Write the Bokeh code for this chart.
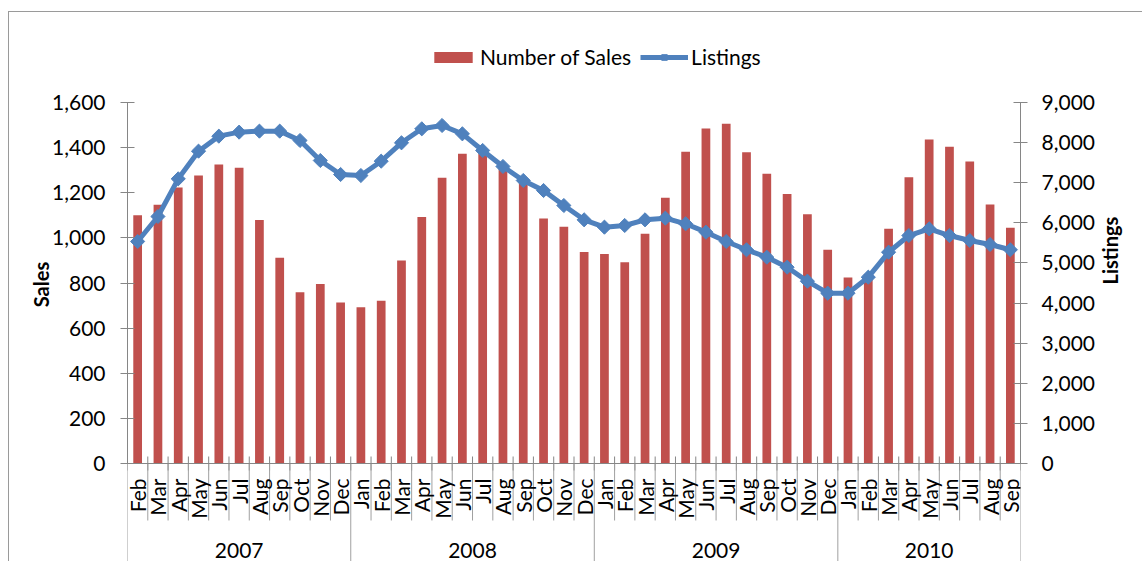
import numpy as np
from bokeh.plotting import figure
from bokeh.models import (Range1d, LinearAxis, FixedTicker, NumeralTickFormatter,
                          Span, Legend, LegendItem, ColumnDataSource)
from bokeh.core.properties import value
from bokeh.embed import file_html
from bokeh.resources import INLINE

# ---------------- data ----------------
years = ["2007", "2008", "2009", "2010"]
months_per_year = [
    ["Feb", "Mar", "Apr", "May", "Jun", "Jul", "Aug", "Sep", "Oct", "Nov", "Dec"],
    ["Jan", "Feb", "Mar", "Apr", "May", "Jun", "Jul", "Aug", "Sep", "Oct", "Nov", "Dec"],
    ["Jan", "Feb", "Mar", "Apr", "May", "Jun", "Jul", "Aug", "Sep", "Oct", "Nov", "Dec"],
    ["Jan", "Feb", "Mar", "Apr", "May", "Jun", "Jul", "Aug", "Sep"],
]
sales = [1100, 1147, 1223, 1277, 1325, 1311, 1079, 912, 759, 796, 714,
         693, 721, 900, 1092, 1266, 1373, 1380, 1310, 1250, 1086, 1049, 937,
         929, 892, 1018, 1178, 1382, 1485, 1506, 1379, 1284, 1194, 1105, 947,
         824, 840, 1040, 1269, 1436, 1404, 1339, 1148, 1045]
listings = [5535, 6158, 7097, 7787, 8161, 8261, 8286, 8286, 8053, 7554, 7205,
            7180, 7537, 7995, 8344, 8427, 8219, 7804, 7405, 7056, 6806, 6432, 6075,
            5892, 5934, 6075, 6116, 5976, 5767, 5535, 5328, 5143, 4894, 4545, 4246,
            4246, 4645, 5268, 5684, 5851, 5684, 5560, 5460, 5328]
sales_ticks = list(range(0, 1601, 200))
listing_ticks = list(range(0, 9001, 1000))

months = [m for ms in months_per_year for m in ms]
n = len(months)
xs = list(range(n))

# ---------------- geometry / style ----------------
FONT = "Lato"
RED = "#C0504D"
BLUE = "#4F81BD"
AXIS_GRAY = "#868686"
SEP_GRAY = "#a0a0a0"
W, H = 1142, 561
ML, MR, MT = 127, 122, 7
AXIS_Y, TOP_TICK_Y = 463, 102
PX_PER_UNIT = (AXIS_Y - TOP_TICK_Y) / 1600.0


def below(px):
    """value (left-axis units) that lies px pixels below the zero line"""
    return -px / PX_PER_UNIT


y_top = (AXIS_Y - MT) / PX_PER_UNIT
y_bot = below(H - AXIS_Y)
ratio = listing_ticks[-1] / sales_ticks[-1]

p = figure(width=W, height=H, output_backend="svg", toolbar_location=None, tools="",
           x_range=Range1d(-0.5, n - 0.5), y_range=Range1d(y_bot, y_top),
           x_axis_location=None, min_border_left=ML, min_border_right=MR,
           min_border_top=MT, min_border_bottom=0)
p.extra_y_ranges = {"listings": Range1d(y_bot * ratio, y_top * ratio)}
p.xgrid.visible = False
p.ygrid.visible = False
p.outline_line_color = None
p.border_fill_color = None
p.background_fill_color = None
p.styles = {"box-shadow": "inset 8px 0 0 0 #ffffff, inset 0 11px 0 0 #ffffff, "
                          "inset 9px 12px 0 0 #9a9a9a"}


def style_axis(ax):
    ax.axis_line_color = AXIS_GRAY
    ax.major_tick_line_color = AXIS_GRAY
    ax.minor_tick_line_color = None
    ax.major_tick_in = 7
    ax.major_tick_out = 7
    ax.major_label_text_font = FONT
    ax.major_label_text_font_size = "21px"
    ax.major_label_text_color = "black"
    ax.axis_label_text_font = FONT
    ax.axis_label_text_font_size = "20px"
    ax.axis_label_text_font_style = "bold"
    ax.axis_label_text_color = "black"
    ax.formatter = NumeralTickFormatter(format="0,0")


ly = p.yaxis[0]
ly.ticker = FixedTicker(ticks=sales_ticks)
ly.bounds = (0, sales_ticks[-1])
ly.axis_label = "Sales"
style_axis(ly)
ly.major_label_standoff = 15
ly.axis_label_standoff = -4

ry = LinearAxis(y_range_name="listings", ticker=FixedTicker(ticks=listing_ticks),
                bounds=(0, listing_ticks[-1]), axis_label="Listings")
style_axis(ry)
ry.major_label_standoff = 14
ry.axis_label_standoff = 12
try:
    ry.axis_label_orientation = np.pi / 2
except Exception:
    pass
p.add_layout(ry, "right")

src = ColumnDataSource(dict(x=xs, sales=sales, listings=listings, month=months))

bars = p.vbar(x="x", top="sales", width=0.43, source=src, fill_color=RED, line_color=None)
line = p.line(x="x", y="listings", source=src, y_range_name="listings",
              line_color=BLUE, line_width=5)
pts = p.scatter(x="x", y="listings", source=src, y_range_name="listings",
                marker="square", angle=np.pi / 4, size=10,
                fill_color=BLUE, line_color=BLUE)

# category axis drawn inside the extended frame
p.add_layout(Span(location=0, dimension="width", line_color=AXIS_GRAY, line_width=1))
bounds = [i - 0.5 for i in range(n + 1)]
p.segment(x0=bounds, y0=[below(-7)] * len(bounds), x1=bounds, y1=[below(7)] * len(bounds),
          line_color=AXIS_GRAY, line_width=1)

year_starts = np.cumsum([0] + [len(m) for m in months_per_year])
year_bounds = [b - 0.5 for b in year_starts]
month_bounds = [b for b in bounds if b not in year_bounds]
p.segment(x0=month_bounds, y0=[below(0)] * len(month_bounds), x1=month_bounds,
          y1=[below(57)] * len(month_bounds), line_color=SEP_GRAY, line_width=1)
p.segment(x0=year_bounds, y0=[below(0)] * len(year_bounds), x1=year_bounds,
          y1=[y_bot] * len(year_bounds), line_color=SEP_GRAY, line_width=1)

p.text(x=xs, y=[below(15)] * n, text=months, angle=np.pi / 2,
       text_align="right", text_baseline="middle",
       text_font=value(FONT), text_font_size="21px", text_color="black")

year_centers = [(year_starts[i] + year_starts[i + 1] - 1) / 2 for i in range(len(years))]
p.text(x=year_centers, y=[below(86.5)] * len(years), text=years,
       text_align="center", text_baseline="middle",
       text_font=value(FONT), text_font_size="21px", text_color="black")

legend = Legend(items=[LegendItem(label="Number of Sales", renderers=[bars]),
                       LegendItem(label="Listings", renderers=[line, pts])],
                orientation="horizontal", location=(302, 492),
                glyph_width=48, glyph_height=14, label_standoff=3, spacing=9,
                padding=0, margin=0, border_line_color=None, background_fill_alpha=0,
                label_text_font=FONT, label_text_font_size="21px", label_text_color="black")
p.add_layout(legend)

open("out.html", "w").write(file_html(p, INLINE))
